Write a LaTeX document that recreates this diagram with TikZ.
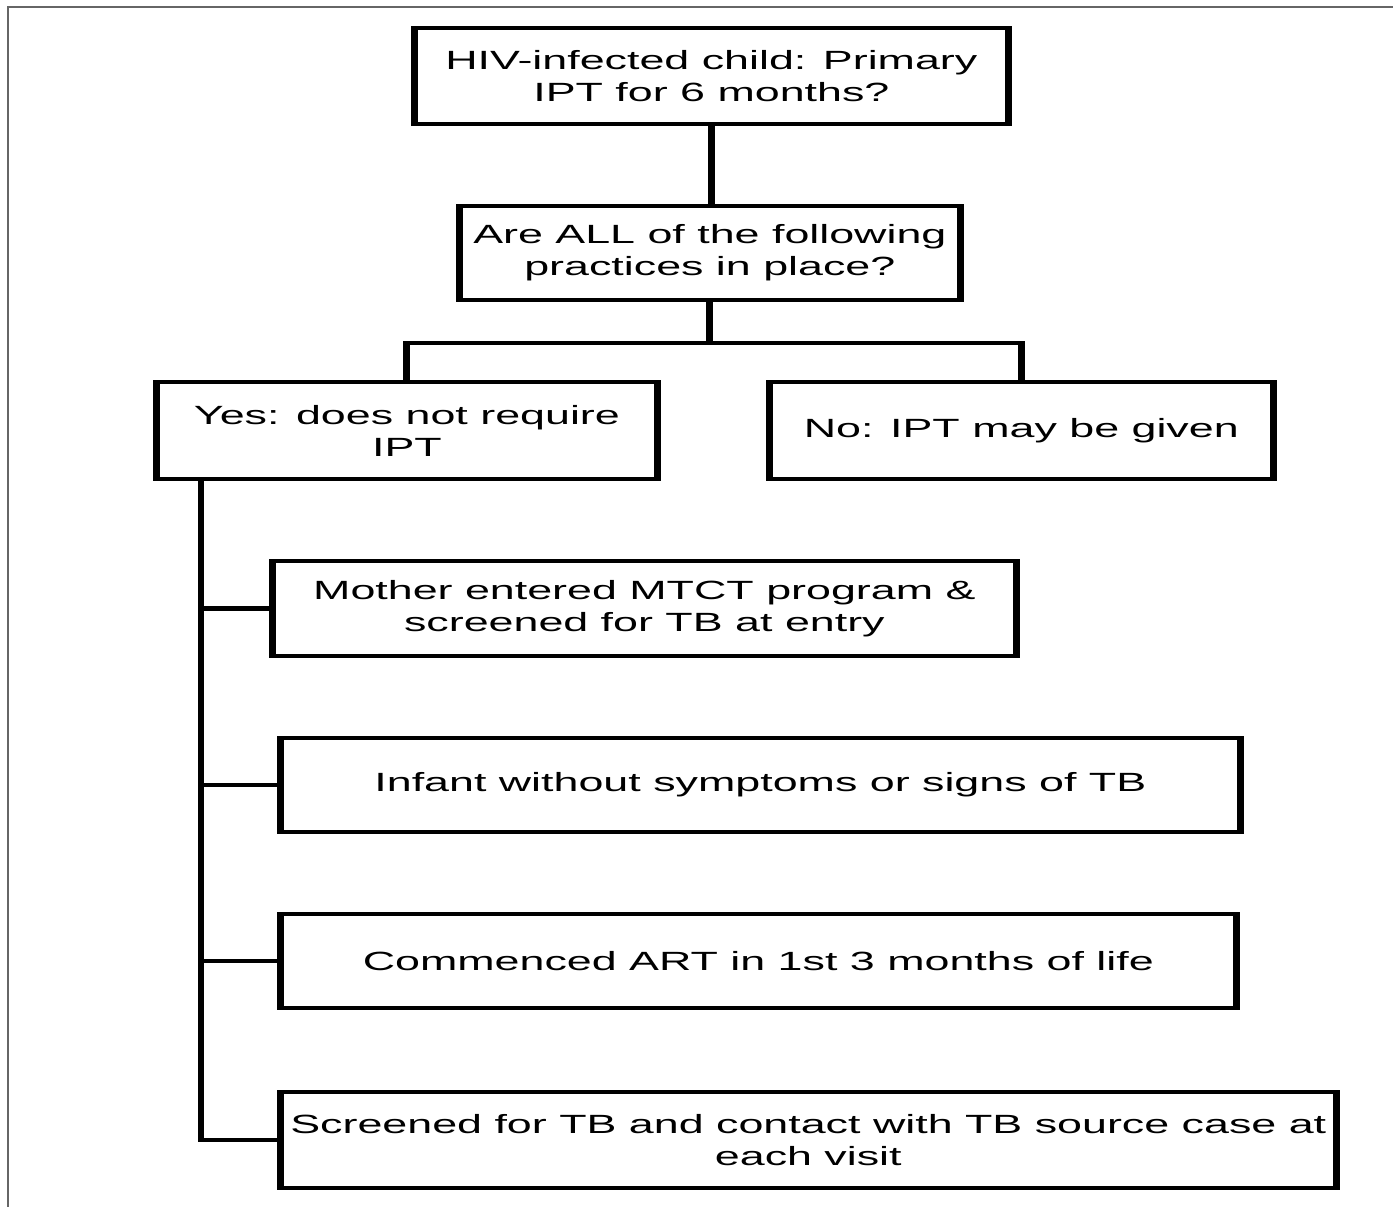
\documentclass[tikz,border=0pt]{standalone}
\usepackage{fontspec}
\setmainfont{Liberation Sans}

\tikzset{box/.style={draw, line width=2.3pt, align=center, inner sep=0pt,
    font=\fontsize{15}{18.2}\selectfont},
  link/.style={line width=2.3pt}}

\begin{document}
\begin{tikzpicture}[x=0.02cm,y=-0.02cm]
  \useasboundingbox (0,0) rectangle (1393,1207);
  \draw[black!60, line width=1pt] (8,1207) -- (8,7) -- (1393,7);
  \begin{scope}[transform canvas={xscale=1.7}, x=0.011765cm]
    \node[box, minimum width=6.99cm, minimum height=1.92cm] (child) at (711.5,76)
      {HIV-infected child: Primary\\IPT for 6 months?};
    \node[box, minimum width=5.90cm, minimum height=1.88cm] (ask) at (710,253)
      {Are ALL of the following\\practices in place?};
    \node[box, minimum width=5.90cm, minimum height=1.94cm] (yes) at (407,430.5)
      {Yes: does not require\\IPT};
    \node[box, minimum width=5.93cm, minimum height=1.94cm] (no) at (1021.5,430.5)
      {No: IPT may be given};
    \node[box, minimum width=8.76cm, minimum height=1.90cm] (mother) at (644.5,608.5)
      {Mother entered MTCT program \&\\screened for TB at entry};
    \node[box, minimum width=11.30cm, minimum height=1.88cm] (infant) at (760.5,785)
      {Infant without symptoms or signs of TB};
    \node[box, minimum width=11.25cm, minimum height=1.88cm] (art) at (758.5,961)
      {Commenced ART in 1st 3 months of life};
    \node[box, minimum width=12.43cm, minimum height=1.92cm] (screen) at (808.5,1140)
      {Screened for TB and contact with TB source case at\\each visit};
    % question tree
    \coordinate (split) at (710,343);
    \draw[link] (child.south) -- (child.south |- ask.north);
    \draw[link] (ask.south) -- (split);
    \draw[link] (yes.north) |- (split) -| (no.north);
    % practices
    \coordinate (trunk) at (201,1140);
    \draw[link] (yes.south -| trunk) |- (screen.west);
    \foreach \n in {mother,infant,art}
      \draw[link] (trunk |- \n.west) -- (\n.west);
  \end{scope}
\end{tikzpicture}
\end{document}
